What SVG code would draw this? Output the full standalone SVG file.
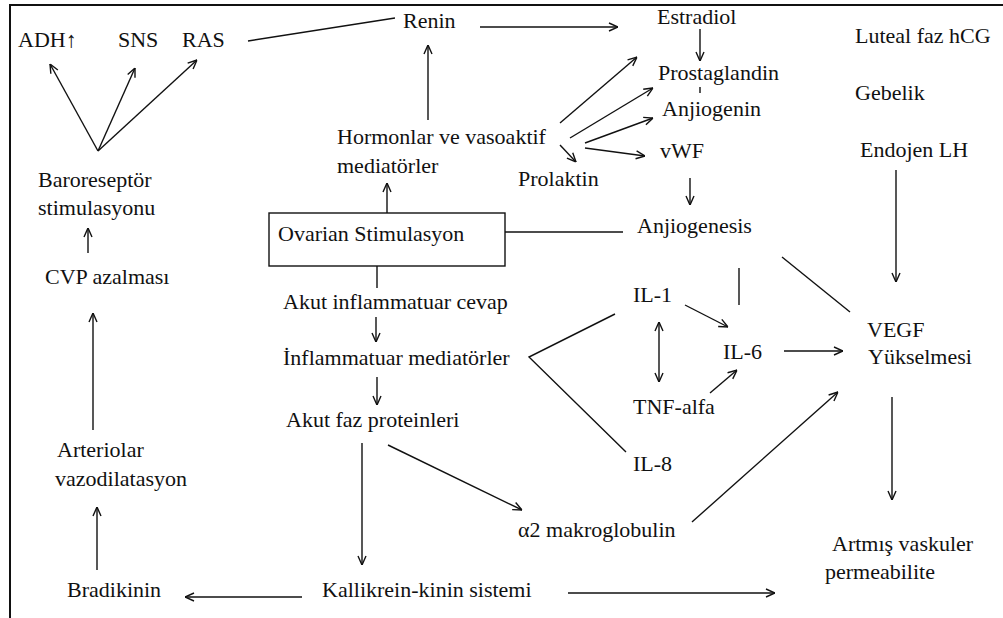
<svg xmlns="http://www.w3.org/2000/svg" width="1003" height="618" viewBox="0 0 1003 618">
<style>
text{font-family:"Liberation Serif","Times New Roman",serif;font-size:22px;fill:#111}
.c line,.c path{stroke:#111;stroke-width:1.4;fill:none}
.a{marker-end:url(#ah)}
.d{marker-start:url(#ahs);marker-end:url(#ah)}
</style>
<defs>
<marker id="ah" viewBox="0 0 10 10" refX="10" refY="5" markerWidth="10" markerHeight="10" markerUnits="userSpaceOnUse" orient="auto">
<path d="M1,1 L10,5 L1,9" fill="none" stroke="#111" stroke-width="1.4"/>
</marker>
<marker id="ahs" viewBox="0 0 10 10" refX="10" refY="5" markerWidth="10" markerHeight="10" markerUnits="userSpaceOnUse" orient="auto-start-reverse">
<path d="M1,1 L10,5 L1,9" fill="none" stroke="#111" stroke-width="1.4"/>
</marker>
</defs>
<rect width="1003" height="618" fill="#fff"/>
<path d="M10,618 V5 H1003" fill="none" stroke="#111" stroke-width="2"/>

<g class="c" id="connectors">
<line x1="248" y1="41" x2="395" y2="18"/>
<line class="a" x1="480" y1="27" x2="618" y2="27"/>
<line class="a" x1="428" y1="120" x2="428" y2="45"/>
<line class="a" x1="387" y1="213" x2="387" y2="183"/>
<line class="a" x1="98" y1="151" x2="50" y2="64"/>
<line class="a" x1="98" y1="151" x2="135" y2="68"/>
<line class="a" x1="98" y1="151" x2="197" y2="60"/>
<line class="a" x1="700" y1="29" x2="700" y2="61"/>
<line x1="700" y1="87" x2="700" y2="93"/>
<line class="a" x1="560" y1="123" x2="637" y2="57"/>
<line class="a" x1="570" y1="138" x2="653" y2="88"/>
<line class="a" x1="585" y1="143" x2="653" y2="118"/>
<line class="a" x1="585" y1="148" x2="645" y2="156"/>
<line class="a" x1="560" y1="145" x2="576" y2="162"/>
<line class="a" x1="690" y1="178" x2="690" y2="205"/>
<line class="a" x1="896" y1="170" x2="896" y2="282"/>
<line x1="505" y1="232" x2="623" y2="232"/>
<line x1="377" y1="266" x2="377" y2="288"/>
<line class="a" x1="376" y1="317" x2="376" y2="342"/>
<line class="a" x1="377" y1="377" x2="377" y2="405"/>
<line x1="739" y1="268" x2="739" y2="305"/>
<line x1="782" y1="257" x2="850" y2="312"/>
<line class="a" x1="685" y1="305" x2="728" y2="327"/>
<line class="d" x1="659" y1="322" x2="659" y2="382"/>
<line class="a" x1="710" y1="393" x2="737" y2="370"/>
<line class="a" x1="784" y1="351" x2="843" y2="351"/>
<path d="M615,314 L529,357 L626,452"/>
<line class="a" x1="692" y1="522" x2="838" y2="392"/>
<line class="a" x1="892" y1="397" x2="892" y2="500"/>
<line class="a" x1="388" y1="445" x2="522" y2="510"/>
<line class="a" x1="362" y1="443" x2="362" y2="565"/>
<line class="a" x1="302" y1="597" x2="185" y2="597"/>
<line class="a" x1="568" y1="593" x2="775" y2="593"/>
<line class="a" x1="97" y1="570" x2="97" y2="507"/>
<line class="a" x1="93" y1="430" x2="93" y2="313"/>
<line class="a" x1="88" y1="253" x2="88" y2="228"/>
</g>

<g id="adh"><text x="18" y="47">ADH↑</text></g>
<g id="sns"><text x="118" y="47">SNS</text></g>
<g id="ras"><text x="182" y="47">RAS</text></g>
<g id="renin"><text x="403" y="28">Renin</text></g>
<g id="estradiol"><text x="657" y="24">Estradiol</text></g>
<g id="prostaglandin"><text x="658" y="80">Prostaglandin</text></g>
<g id="anjiogenin"><text x="662" y="116">Anjiogenin</text></g>
<g id="vwf"><text x="660" y="158">vWF</text></g>
<g id="prolaktin"><text x="518" y="186">Prolaktin</text></g>
<g id="hormonlar"><text x="337" y="144">Hormonlar ve vasoaktif</text><text x="337" y="173">mediatörler</text></g>
<g id="baroreseptor"><text x="38" y="187">Baroreseptör</text><text x="38" y="215">stimulasyonu</text></g>
<g id="luteal"><text x="855" y="43">Luteal faz hCG</text></g>
<g id="gebelik"><text x="855" y="100">Gebelik</text></g>
<g id="endojen"><text x="860" y="157">Endojen LH</text></g>
<g id="ovarian"><rect x="269" y="213" width="236" height="53" fill="none" stroke="#111" stroke-width="1.4"/><text x="278" y="241">Ovarian Stimulasyon</text></g>
<g id="anjiogenesis"><text x="637" y="233">Anjiogenesis</text></g>
<g id="cvp"><text x="45" y="284">CVP azalması</text></g>
<g id="akutinf"><text x="283" y="309">Akut inflammatuar cevap</text></g>
<g id="infmed"><text x="283" y="365">İnflammatuar mediatörler</text></g>
<g id="il1"><text x="633" y="302">IL-1</text></g>
<g id="il6"><text x="723" y="359">IL-6</text></g>
<g id="vegf"><text x="867" y="337">VEGF</text><text x="868" y="364">Yükselmesi</text></g>
<g id="tnf"><text x="633" y="414">TNF-alfa</text></g>
<g id="akutfaz"><text x="286" y="427">Akut faz proteinleri</text></g>
<g id="il8"><text x="633" y="471">IL-8</text></g>
<g id="arteriolar"><text x="57" y="457">Arteriolar</text><text x="55" y="486">vazodilatasyon</text></g>
<g id="a2"><text x="518" y="537">α2 makroglobulin</text></g>
<g id="artmis"><text x="832" y="551">Artmış vaskuler</text><text x="825" y="579">permeabilite</text></g>
<g id="bradikinin"><text x="67" y="597">Bradikinin</text></g>
<g id="kallikrein"><text x="322" y="597">Kallikrein-kinin sistemi</text></g>
</svg>
